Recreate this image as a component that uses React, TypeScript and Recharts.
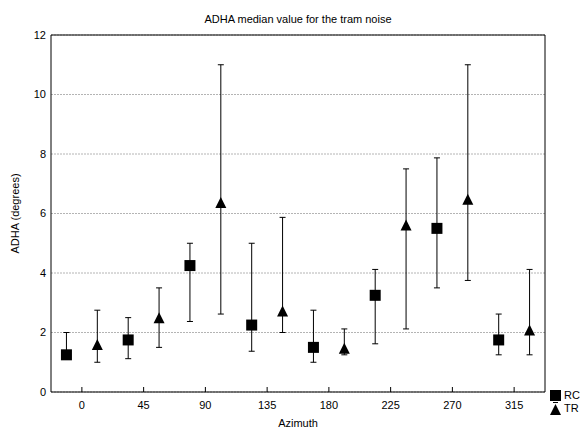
import React from 'react';
import { ScatterChart, Scatter, XAxis, YAxis, CartesianGrid, ErrorBar, Legend } from 'recharts';

const azimuths = [0, 45, 90, 135, 180, 225, 270, 315];
const rcMedian = [1.25, 1.75, 4.25, 2.25, 1.5, 3.25, 5.5, 1.75];
const rcLow = [1.25, 1.12, 2.37, 1.37, 1.0, 1.62, 3.5, 1.25];
const rcHigh = [2.0, 2.5, 5.0, 5.0, 2.75, 4.12, 7.87, 2.62];
const trMedian = [1.6, 2.5, 6.37, 2.72, 1.47, 5.61, 6.48, 2.08];
const trLow = [1.0, 1.5, 2.62, 2.0, 1.25, 2.12, 3.75, 1.25];
const trHigh = [2.75, 3.5, 11.0, 5.87, 2.12, 7.5, 11.0, 4.12];
const xTicks = [0, 45, 90, 135, 180, 225, 270, 315];
const yTicks = [0, 2, 4, 6, 8, 10, 12];
const title = 'ADHA median value for the tram noise';
const xLabel = 'Azimuth';
const yLabel = 'ADHA (degrees)';

const OFFSET = 11.25;
const rcData = azimuths.map((a, i) => ({
  x: a - OFFSET,
  y: rcMedian[i],
  err: [rcMedian[i] - rcLow[i], rcHigh[i] - rcMedian[i]],
}));
const trData = azimuths.map((a, i) => ({
  x: a + OFFSET,
  y: trMedian[i],
  err: [trMedian[i] - trLow[i], trHigh[i] - trMedian[i]],
}));

const FONT = '"Liberation Sans", Arial, sans-serif';

const SquareShape = (props: any) => {
  const { cx, cy } = props;
  return <rect x={cx - 5.5} y={cy - 5.5} width={11} height={11} fill="#000" />;
};
const TriangleShape = (props: any) => {
  const { cx, cy } = props;
  return <polygon points={`${cx},${cy - 5.5} ${cx - 5.5},${cy + 5.5} ${cx + 5.5},${cy + 5.5}`} fill="#000" />;
};

const LegendContent = () => (
  <div style={{ fontFamily: FONT, fontSize: 11, color: '#000', lineHeight: '11px' }}>
    <div style={{ display: 'flex', alignItems: 'center', height: 11 }}>
      <svg width={11} height={11}><rect x={0} y={0} width={11} height={11} fill="#000" /></svg>
      <span style={{ marginLeft: 3 }}>RC</span>
    </div>
    <div style={{ display: 'flex', alignItems: 'center', height: 13, marginTop: 1 }}>
      <svg width={11} height={13}>
        <line x1={3} y1={0.5} x2={8} y2={0.5} stroke="#000" />
        <polygon points="5.5,2 0,13 11,13" fill="#000" />
      </svg>
      <span style={{ marginLeft: 3 }}>TR</span>
    </div>
  </div>
);

export default function App() {
  return (
    <div style={{ position: 'absolute', left: 0, top: 0, width: 581, height: 432, background: '#fff' }}>
      <div
        style={{
          position: 'absolute',
          left: 0,
          width: 596,
          top: 13,
          textAlign: 'center',
          fontFamily: FONT,
          fontSize: 11,
          color: '#000',
          lineHeight: '13px',
        }}
      >
        {title}
      </div>
      <ScatterChart width={581} height={432} margin={{ top: 35, right: 36, bottom: 0, left: 0 }}>
        <CartesianGrid horizontal vertical={false} stroke="#b4b4b4" strokeDasharray="2 1" />
        <XAxis
          type="number"
          dataKey="x"
          domain={[-22.5, 337.5]}
          ticks={xTicks}
          allowDataOverflow
          height={40}
          stroke="#000"
          tickSize={-5}
          tickMargin={14}
          tick={{ fill: '#000', fontSize: 11, fontFamily: FONT }}
          label={{
            content: (p: any) => {
              const vb = p.viewBox;
              return (
                <text x={vb.x + vb.width / 2} y={vb.y + 35} textAnchor="middle" fontSize={11} fontFamily={FONT} fill="#000">
                  {xLabel}
                </text>
              );
            },
          }}
        />
        <XAxis
          xAxisId="top"
          orientation="top"
          type="number"
          domain={[-22.5, 337.5]}
          ticks={xTicks}
          mirror
          tick={false}
          tickSize={4}
          stroke="#000"
        />
        <YAxis
          type="number"
          dataKey="y"
          domain={[0, 12]}
          ticks={yTicks}
          width={51}
          stroke="#000"
          tickLine={false}
          tickSize={0}
          tickMargin={5}
          tick={{ fill: '#000', fontSize: 11, fontFamily: FONT }}
          label={{
            content: (p: any) => {
              const vb = p.viewBox;
              const x = 19;
              const y = vb.y + vb.height / 2;
              return (
                <text x={x} y={y} transform={`rotate(-90, ${x}, ${y})`} textAnchor="middle" fontSize={11} fontFamily={FONT} fill="#000">
                  {yLabel}
                </text>
              );
            },
          }}
        />
        <YAxis
          yAxisId="right"
          orientation="right"
          type="number"
          domain={[0, 12]}
          ticks={yTicks}
          mirror
          tick={false}
          tickSize={4}
          stroke="#000"
        />
        <Legend
          layout="vertical"
          align="center"
          verticalAlign="middle"
          content={<LegendContent />}
          wrapperStyle={{ left: 550, top: 390, width: 30 }}
        />
        <Scatter name="RC" data={rcData} fill="#000" shape={<SquareShape />} isAnimationActive={false}>
          <ErrorBar dataKey="err" direction="y" width={3} stroke="#000" strokeWidth={1} />
        </Scatter>
        <Scatter name="TR" data={trData} fill="#000" shape={<TriangleShape />} isAnimationActive={false}>
          <ErrorBar dataKey="err" direction="y" width={3} stroke="#000" strokeWidth={1} />
        </Scatter>
      </ScatterChart>
    </div>
  );
}
